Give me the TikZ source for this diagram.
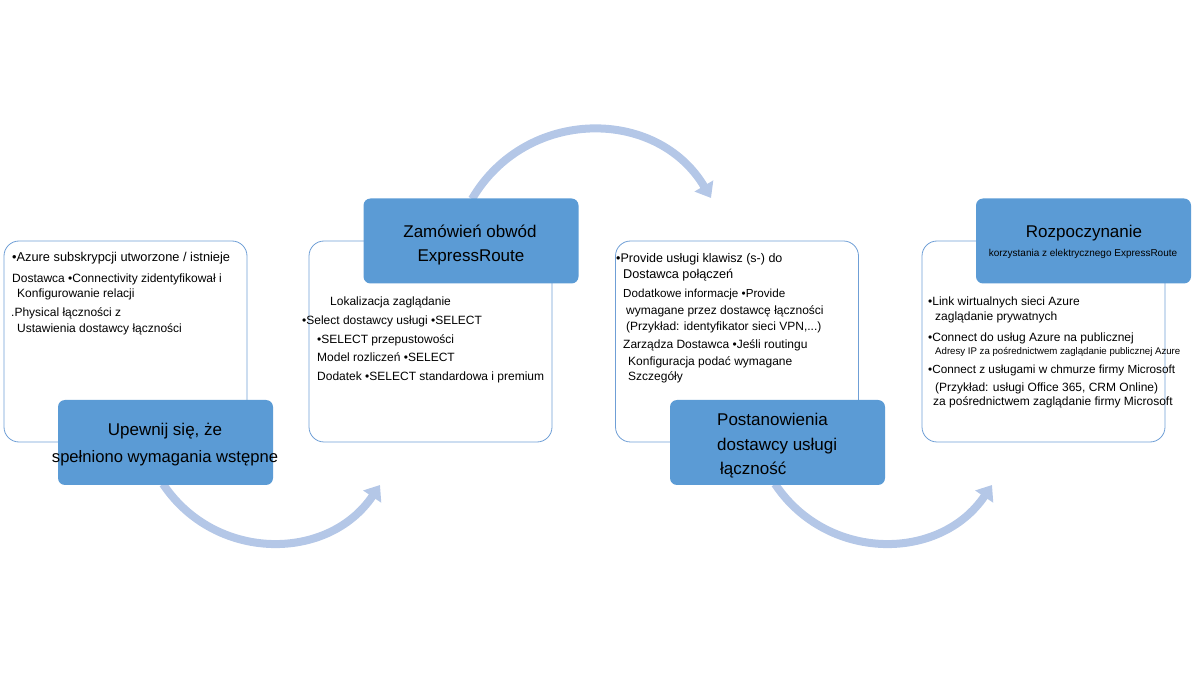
\documentclass[tikz,border=0pt]{standalone}
\usepackage{fontspec}
\setmainfont{Liberation Sans}
\usetikzlibrary{arrows.meta}
\definecolor{boxblue}{HTML}{5B9BD5}
\definecolor{edgeblue}{HTML}{6F9FD6}
\definecolor{arcblue}{HTML}{B4C7E7}
\begin{document}
\begin{tikzpicture}[x=1pt,y=-1pt,
  outline/.style={draw=edgeblue,line width=0.8pt,fill=white,rounded corners=15pt,
    minimum width=243pt,minimum height=201pt,inner sep=0pt},
  bluebox/.style={fill=boxblue,draw=none,rounded corners=7pt,
    minimum width=215pt,minimum height=85pt,inner sep=0pt},
  body/.style={anchor=base west,inner sep=0pt,font=\fontsize{12}{14}\selectfont},
  bodysz/.style={anchor=base west,inner sep=0pt,font=\fontsize{#1}{14}\selectfont},
  title/.style={anchor=base,inner sep=0pt,font=\fontsize{17}{20}\selectfont},
  titlel/.style={anchor=base west,inner sep=0pt,font=\fontsize{17}{20}\selectfont},
  flow/.style={draw=arcblue,line width=8pt,-{Triangle[width=21pt,length=14pt]}}
]
\useasboundingbox (0,0) rectangle (1192,684);

% arc end points
\coordinate (t1s) at (472,199);
\coordinate (t1e) at (711,198);
\coordinate (b1s) at (163,484);
\coordinate (b1e) at (380,485);
\coordinate (b2s) at (775,484);
\coordinate (b2e) at (992,485);

% arcs
\draw[flow] (t1s) .. controls (526,107) and (657,107) .. (t1e);
\draw[flow] (b1s) .. controls (215,562) and (328,562) .. (b1e);
\draw[flow] (b2s) .. controls (827,562) and (940,562) .. (b2e);

% outline boxes
\node[outline] (o1) at (125.5,341.5) {};
\node[outline] (o2) at (430.5,341.5) {};
\node[outline] (o3) at (737,341.5) {};
\node[outline] (o4) at (1043.5,341.5) {};

% blue boxes
\node[bluebox] (b1) at (165.5,442.5) {};
\node[bluebox] (b2) at (471,241) {};
\node[bluebox] (b3) at (777.5,442.5) {};
\node[bluebox] (b4) at (1083.5,241) {};

% box 1 text
\node[bodysz=12.8] (l11) at (12,261.5) {•Azure subskrypcji utworzone / istnieje};
\node[body] (l12) at (12,282.5) {Dostawca •Connectivity zidentyfikował i};
\node[body] (l13) at (17,297.5) {Konfigurowanie relacji};
\node[body] (l14) at (11,316.5) {.Physical łączności z};
\node[body] (l15) at (17,332.5) {Ustawienia dostawcy łączności};
\node[title] (h11) at (165,436) {Upewnij się, że};
\node[title,font=\fontsize{16.6}{20}\selectfont] (h12) at (165,463) {spełniono wymagania wstępne};

% box 2 text
\node[title] (h21) at (470,238) {Zamówień obwód};
\node[title] (h22) at (471,262) {ExpressRoute};
\node[body] (l21) at (330,305.5) {Lokalizacja zaglądanie};
\node[body] (l22) at (302,324.5) {•Select dostawcy usługi •SELECT};
\node[body] (l23) at (317,343.5) {•SELECT przepustowości};
\node[body] (l24) at (317,361.5) {Model rozliczeń •SELECT};
\node[body] (l25) at (317,380.5) {Dodatek •SELECT standardowa i premium};

% box 3 text
\node[bodysz=12.5] (l31) at (616,262.5) {•Provide usługi klawisz (s-) do};
\node[bodysz=12.7] (l32) at (623,278.5) {Dostawca połączeń};
\node[bodysz=11.65] (l33) at (623,297.5) {Dodatkowe informacje •Provide};
\node[body] (l34) at (626,314.5) {wymagane przez dostawcę łączności};
\node[body] (l35) at (626,330.5) {(Przykład: identyfikator sieci VPN,...)};
\node[body] (l36) at (623,348.5) {Zarządza Dostawca •Jeśli routingu};
\node[body] (l37) at (628,365.5) {Konfiguracja podać wymagane};
\node[body] (l38) at (628,380.5) {Szczegóły};
\node[titlel] (h31) at (717,426) {Postanowienia};
\node[titlel] (h32) at (717,451) {dostawcy usługi};
\node[titlel] (h33) at (720,475) {łączność};

% box 4 text
\node[title] (h41) at (1084,238) {Rozpoczynanie};
\node[anchor=base,inner sep=0pt,font=\fontsize{10}{12}\selectfont] (h42) at (1083,256.5) {korzystania z elektrycznego ExpressRoute};
\node[body] (l41) at (928,305.5) {•Link wirtualnych sieci Azure};
\node[body] (l42) at (935,320.5) {zaglądanie prywatnych};
\node[body] (l43) at (928,341.5) {•Connect do usług Azure na publicznej};
\node[bodysz=9.65] (l44) at (935,354.5) {Adresy IP za pośrednictwem zaglądanie publicznej Azure};
\node[bodysz=11.75] (l45) at (928,373.5) {•Connect z usługami w chmurze firmy Microsoft};
\node[body] (l46) at (935,391.5) {(Przykład: usługi Office 365, CRM Online)};
\node[body] (l47) at (933,405.5) {za pośrednictwem zaglądanie firmy Microsoft};
\end{tikzpicture}
\end{document}
